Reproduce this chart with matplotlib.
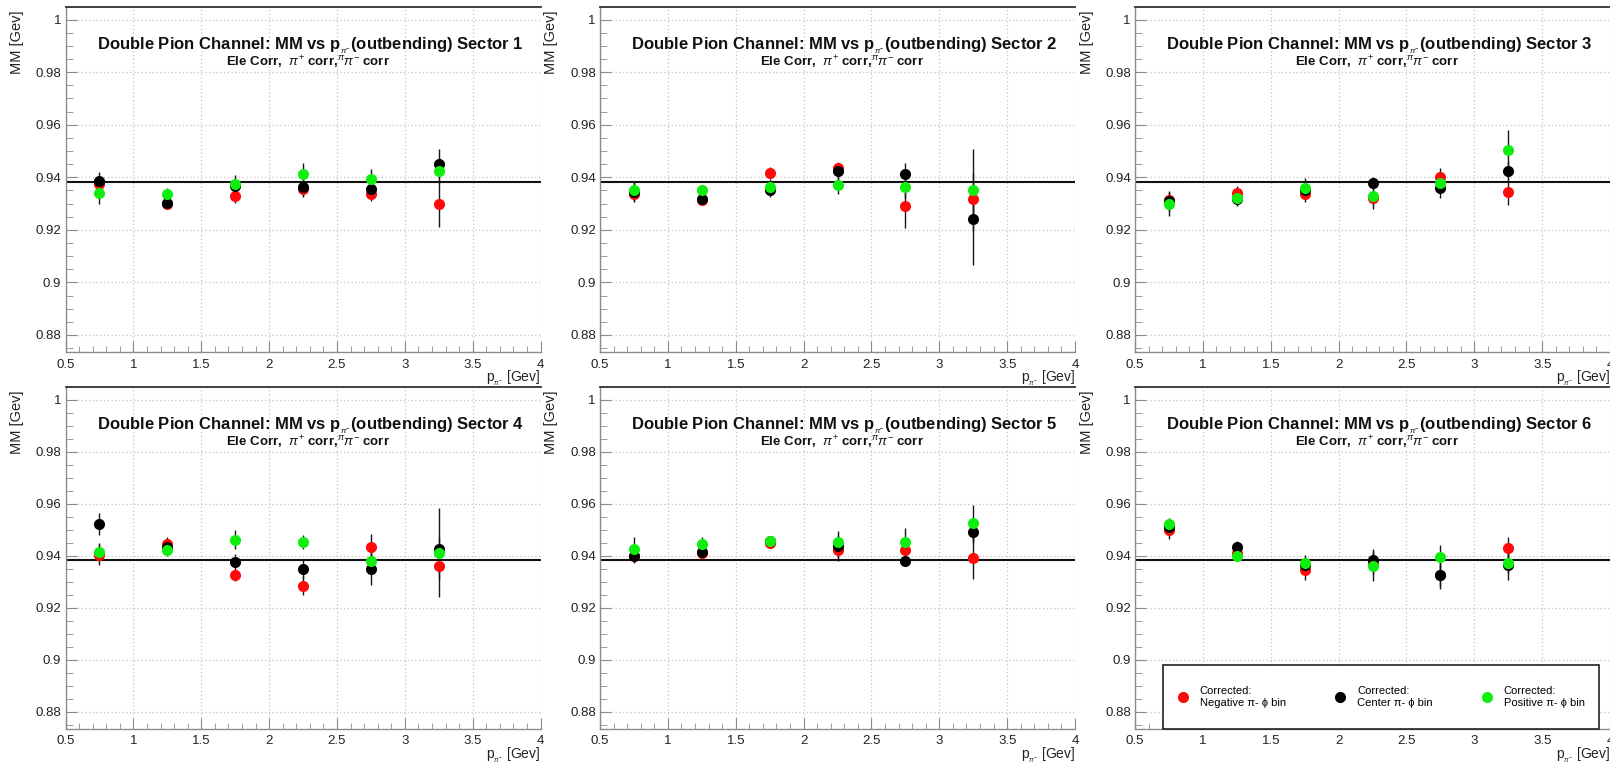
import matplotlib
matplotlib.use("Agg")
import matplotlib.pyplot as plt
from matplotlib.lines import Line2D
from matplotlib.patches import Rectangle
from matplotlib.ticker import MultipleLocator, FuncFormatter

plt.rcParams['font.family'] = ['Liberation Sans', 'DejaVu Sans']
plt.rcParams['mathtext.fontset'] = 'custom'
plt.rcParams['mathtext.rm'] = 'Liberation Sans'
plt.rcParams['mathtext.it'] = 'Liberation Sans:italic'
plt.rcParams['mathtext.bf'] = 'Liberation Sans:bold'

# momentum bin centres [GeV]
p_bins = [0.75, 1.25, 1.75, 2.25, 2.75, 3.25]
sectors = [1, 2, 3, 4, 5, 6]
proton_mass = 0.93827

# missing mass per sector (rows) and momentum bin (columns)
neg_mm = [
    [0.9375, 0.9300, 0.9328, 0.9355, 0.9336, 0.9300],
    [0.9338, 0.9313, 0.9418, 0.9437, 0.9290, 0.9316],
    [0.9315, 0.9340, 0.9335, 0.9323, 0.9400, 0.9343],
    [0.9403, 0.9446, 0.9325, 0.9285, 0.9433, 0.9360],
    [0.9400, 0.9410, 0.9450, 0.9422, 0.9422, 0.9390],
    [0.9500, 0.9412, 0.9346, 0.9370, 0.9325, 0.9430],
]
neg_err = [
    [0.0030, 0.0010, 0.0025, 0.0030, 0.0025, 0.0088],
    [0.0030, 0.0015, 0.0022, 0.0023, 0.0082, 0.0060],
    [0.0030, 0.0025, 0.0028, 0.0030, 0.0035, 0.0047],
    [0.0040, 0.0025, 0.0024, 0.0038, 0.0052, 0.0050],
    [0.0025, 0.0020, 0.0015, 0.0030, 0.0030, 0.0080],
    [0.0035, 0.0020, 0.0038, 0.0040, 0.0040, 0.0041],
]
ctr_mm = [
    [0.9385, 0.9303, 0.9365, 0.9362, 0.9355, 0.9452],
    [0.9345, 0.9318, 0.9352, 0.9425, 0.9412, 0.9240],
    [0.9310, 0.9318, 0.9352, 0.9378, 0.9360, 0.9425],
    [0.9523, 0.9432, 0.9375, 0.9350, 0.9347, 0.9425],
    [0.9400, 0.9414, 0.9455, 0.9437, 0.9380, 0.9492],
    [0.9510, 0.9435, 0.9365, 0.9385, 0.9324, 0.9365],
]
ctr_err = [
    [0.0035, 0.0012, 0.0030, 0.0035, 0.0035, 0.0055],
    [0.0040, 0.0015, 0.0028, 0.0030, 0.0043, 0.0175],
    [0.0038, 0.0022, 0.0030, 0.0024, 0.0040, 0.0038],
    [0.0042, 0.0025, 0.0030, 0.0038, 0.0060, 0.0045],
    [0.0030, 0.0032, 0.0015, 0.0056, 0.0015, 0.0045],
    [0.0030, 0.0020, 0.0030, 0.0040, 0.0052, 0.0058],
]
pos_mm = [
    [0.9340, 0.9338, 0.9375, 0.9412, 0.9394, 0.9425],
    [0.9350, 0.9350, 0.9362, 0.9372, 0.9362, 0.9352],
    [0.9297, 0.9322, 0.9360, 0.9330, 0.9378, 0.9502],
    [0.9415, 0.9423, 0.9462, 0.9452, 0.9380, 0.9412],
    [0.9427, 0.9446, 0.9455, 0.9451, 0.9451, 0.9525],
    [0.9522, 0.9398, 0.9372, 0.9360, 0.9395, 0.9372],
]
pos_err = [
    [0.0040, 0.0022, 0.0035, 0.0042, 0.0038, 0.0048],
    [0.0035, 0.0018, 0.0030, 0.0036, 0.0040, 0.0155],
    [0.0045, 0.0033, 0.0038, 0.0052, 0.0030, 0.0078],
    [0.0035, 0.0025, 0.0038, 0.0028, 0.0035, 0.0170],
    [0.0043, 0.0024, 0.0017, 0.0030, 0.0055, 0.0070],
    [0.0023, 0.0018, 0.0030, 0.0057, 0.0046, 0.0040],
]

series = [
    ("Corrected:\nNegative \u03c0- \u03d5 bin", neg_mm, neg_err, "#ff0a0a"),
    ("Corrected:\nCenter \u03c0- \u03d5 bin", ctr_mm, ctr_err, "#000000"),
    ("Corrected:\nPositive \u03c0- \u03d5 bin", pos_mm, pos_err, "#10ee10"),
]

W, H = 1610, 764
fig = plt.figure(figsize=(W / 100, H / 100), dpi=100)

col_left = [65.5, 600.0, 1135.0]
col_width = 475.0
row_top = [6.5, 386.7]
row_height = [345.5, 341.8]

axis_grey = "#8c8c8c"
fmt = FuncFormatter(lambda v, _: f"{v:g}")

for i, sec in enumerate(sectors):
    r, c = divmod(i, 3)
    left = col_left[c] / W
    bottom = 1 - (row_top[r] + row_height[r]) / H
    hgt = row_height[r]
    ax = fig.add_axes([left, bottom, col_width / W, hgt / H])

    ax.set_xlim(0.5, 4.0)
    ax.set_ylim(0.8735, 1.005)
    ax.xaxis.set_major_locator(MultipleLocator(0.5))
    ax.xaxis.set_minor_locator(MultipleLocator(0.1))
    ax.yaxis.set_major_locator(MultipleLocator(0.02))
    ax.yaxis.set_minor_locator(MultipleLocator(0.005))
    ax.xaxis.set_major_formatter(fmt)
    ax.yaxis.set_major_formatter(fmt)

    ax.grid(True, which="major", color="#c4c4c4", linestyle=(0, (1, 2)), linewidth=0.9)
    ax.set_axisbelow(True)

    for s in ("left", "bottom"):
        ax.spines[s].set_color(axis_grey)
        ax.spines[s].set_linewidth(1.0)
    ax.spines["top"].set_color("#333333")
    ax.spines["top"].set_linewidth(1.3)
    ax.spines["right"].set_visible(False)

    ax.tick_params(which="both", direction="in", colors=axis_grey, labelcolor="#222222",
                   labelsize=9.5, top=False, right=False)
    ax.tick_params(axis="x", which="major", length=8, pad=5)
    ax.tick_params(axis="x", which="minor", length=4)
    ax.tick_params(axis="y", which="major", length=8, pad=3)
    ax.tick_params(axis="y", which="minor", length=5)

    ax.axhline(proton_mass, color="#111111", linewidth=1.5, zorder=2)

    for label, vals, errs, colour in series:
        ax.errorbar(p_bins, vals[i], yerr=errs[i], fmt="o", color=colour,
                    markersize=8.0, markeredgewidth=0, ecolor="#161616",
                    elinewidth=1.0, capsize=3.5, capthick=1.2, zorder=3)

    ax.text(0.515, 1 - 39.0 / hgt,
            r"Double Pion Channel: MM vs p$_{_{\pi^{-}}}$(outbending) Sector " + str(sec),
            transform=ax.transAxes, ha="center", va="center",
            fontsize=12, fontweight="bold", color="#111111")
    ax.text(0.51, 1 - 55.5 / hgt,
            r"Ele Corr,  $\pi^{+}$ corr,$^{\pi}\pi^{-}$ corr",
            transform=ax.transAxes, ha="center", va="center",
            fontsize=9.5, fontweight="bold", color="#111111")

    ax.text(-48.5 / col_width, 1 - 4.0 / hgt, "MM [Gev]", rotation=90,
            transform=ax.transAxes, ha="center", va="top", fontsize=10.5, color="#222222")
    ax.text(1.0, -17.0 / hgt, r"p$_{_{\pi^{-}}}$ [Gev]",
            transform=ax.transAxes, ha="right", va="top", fontsize=10, color="#222222")

    if sec == 6:
        box = (0.059, 0.0, 0.918, 0.185)
        ax.add_patch(Rectangle(box[:2], box[2], box[3], transform=ax.transAxes,
                               facecolor="white", edgecolor="#222222", linewidth=1.2,
                               zorder=6, clip_on=False))
        handles = [Line2D([], [], linestyle="none", marker="o", markersize=8.0,
                          markeredgewidth=0, color=colour)
                   for _, _, _, colour in series]
        labels = [label for label, _, _, _ in series]
        leg = ax.legend(handles, labels, ncol=3, loc="center",
                        bbox_to_anchor=box, mode="expand",
                        fontsize=8, frameon=False, handlelength=1.0,
                        handletextpad=1.0, borderaxespad=0.0, borderpad=1.3)
        leg.set_zorder(7)

fig.savefig("out.png", dpi=100)
